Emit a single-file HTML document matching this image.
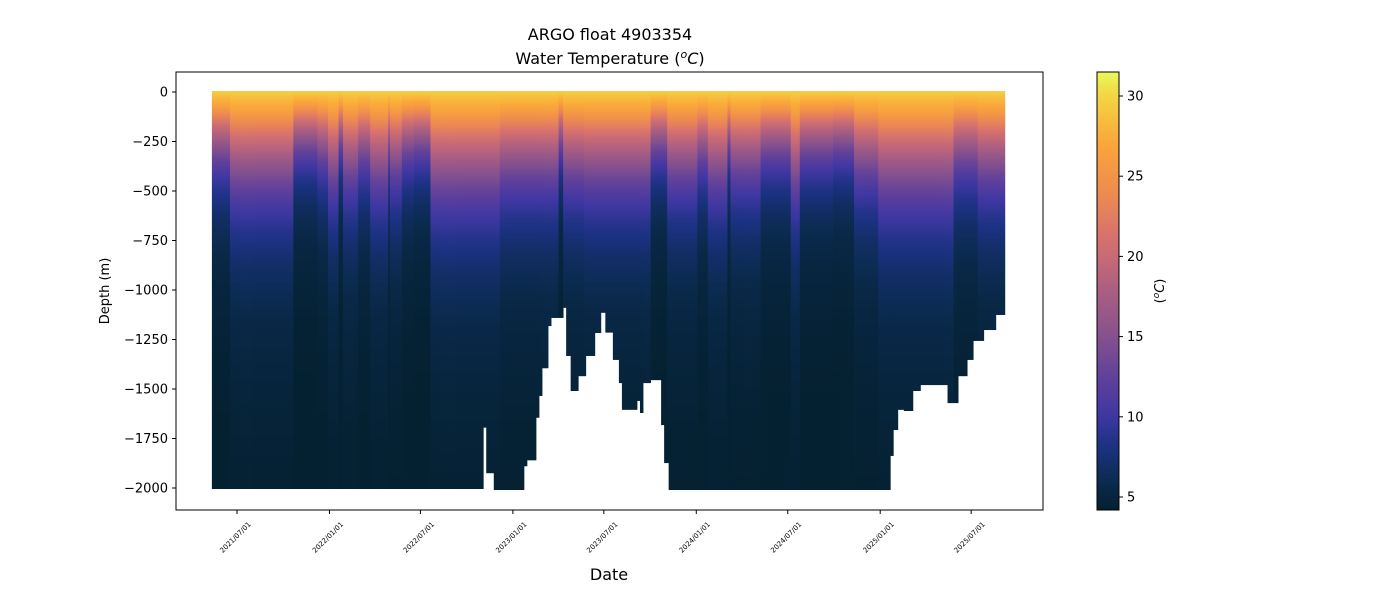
<!DOCTYPE html>
<html><head><meta charset="utf-8"><style>
body{margin:0;background:#fff;font-family:"Liberation Sans","DejaVu Sans",sans-serif}
svg text{font-family:"DejaVu Sans","Liberation Sans",sans-serif;fill:#000}
</style></head><body>
<svg id="c" width="1400" height="600" xmlns="http://www.w3.org/2000/svg">
<defs id="defs"></defs>
<text x="610" y="40" font-size="16" text-anchor="middle">ARGO float 4903354</text>
<text x="610" y="64" font-size="16" text-anchor="middle">Water Temperature (<tspan font-style="italic" font-size="11" dy="-6">o</tspan><tspan font-style="italic" dy="6">C</tspan>)</text>
<g id="plot"></g>
<rect x="176" y="72" width="867" height="438" fill="none" stroke="#000" stroke-width="1"/>
<g id="yax"></g>
<g id="xax"></g>
<text transform="translate(109,291) rotate(-90)" font-size="13" text-anchor="middle">Depth (m)</text>
<text x="609" y="580" font-size="16" text-anchor="middle">Date</text>
<g id="cbar"></g>
<text transform="translate(1164,291) rotate(-90)" font-size="13" text-anchor="middle">(<tspan font-style="italic" font-size="9" dy="-5">o</tspan><tspan font-style="italic" dy="5">C</tspan>)</text>
</svg>
<script>
// ---- data ----
const depthDays = [-50,490,494,509,569,577,593,599,607,617,623,647,653,663,679,693,712,722,732,748,758,766,796,802,808,822,842,848,858,1300,1305,1313,1325,1343,1359,1413,1433,1453,1465,1485,1508];
const maxDepth  = [1990,1680,1910,1995,1875,1845,1630,1520,1380,1167,1126,1075,1318,1495,1420,1318,1202,1100,1200,1338,1455,1590,1545,1606,1455,1440,1667,1859,1995,1823,1692,1590,1596,1495,1465,1556,1420,1338,1242,1187,1111];
const lastDay = 1528;
const warmDays = [-50,-14,111,159,179,201,211,239,265,299,304,328,350,384,523,639,649,689,822,856,915,935,975,981,1041,1100,1120,1186,1226,1274,1425,1473];
const warmth   = [-0.3,0.3,-0.5,-0.3,0.2,-0.6,0.1,-0.3,0.2,-0.6,0,-0.4,-0.5,0.4,0.1,-0.6,0.1,0.2,-0.5,0.1,-0.3,0.2,-0.6,0,-0.4,0.3,-0.4,-0.5,0,0.4,-0.2,0.1];
const profDepth = [0,30,80,130,200,250,300,400,500,600,750,900,1000,1200,1500,2000];
const profTemp  = [29.5,28.3,26.5,24,20.5,18.5,16.5,13,10.5,8.7,7,6,5.5,5,4.6,4.3];
const yTicks = [0,-250,-500,-750,-1000,-1250,-1500,-1750,-2000];
const xTickDays = [0,184,365,549,730,914,1096,1280,1461];
const xTickLabels = ["2021/07/01","2022/01/01","2022/07/01","2023/01/01","2023/07/01","2024/01/01","2024/07/01","2025/01/01","2025/07/01"];
const cbTicks = [5,10,15,20,25,30];
const cmapT = [4.2,6,8,10,12,15,18,21,24,27,30,31.5];
const cmapC = ["#04202f","#0b2b50","#1a3180","#3d37a2","#5a3e9c","#85518d","#ad5f81","#d5706f","#ef8b4f","#faa63a","#f4d543","#e8fa5b"];
// ---- scales ----
const NS="http://www.w3.org/2000/svg";
const xS = d => 237 + d*0.5025;
const yS = v => 92 + (-v)*0.198;
const cbY = t => 96 + (30-t)*16.04;
function interp(xs,ys,x){ if(x<=xs[0])return ys[0]; for(let i=1;i<xs.length;i++){ if(x<=xs[i]){const f=(x-xs[i-1])/(xs[i]-xs[i-1]);return ys[i-1]+f*(ys[i]-ys[i-1]);} } return ys[ys.length-1]; }
function hex(h){return [1,3,5].map(i=>parseInt(h.substr(i,2),16));}
function color(t){ let i=1; while(i<cmapT.length-1 && t>cmapT[i]) i++; let f=(t-cmapT[i-1])/(cmapT[i]-cmapT[i-1]); f=Math.max(0,Math.min(1,f)); const a=hex(cmapC[i-1]),b=hex(cmapC[i]); return "rgb("+a.map((v,k)=>Math.round(v+f*(b[k]-v))).join(",")+")"; }
function stepLookup(days,vals,d){ let r=vals[0]; for(let i=0;i<days.length;i++){ if(d>=days[i]) r=vals[i]; } return r; }
function el(tag,attrs,parent){const e=document.createElementNS(NS,tag);for(const k in attrs)e.setAttribute(k,attrs[k]);parent.appendChild(e);return e;}
const defs=document.getElementById('defs');
warmth.forEach((s,i)=>{
  const g=el('linearGradient',{id:'w'+i,gradientUnits:'userSpaceOnUse',x1:0,x2:0,y1:yS(0),y2:yS(-2000)},defs);
  for(let z=0;z<=2000;z+=25){
    const t=interp(profDepth,profTemp,z/(1+0.55*s));
    el('stop',{offset:(z/2000).toFixed(4),'stop-color':color(t)},g);
  }
});
const plot=document.getElementById('plot');
for(let d=depthDays[0]; d<lastDay; d+=3){
  const md=stepLookup(depthDays,maxDepth,d);
  const wi=(()=>{let r=0;for(let i=0;i<warmDays.length;i++) if(d>=warmDays[i]) r=i; return r;})();
  const x0=xS(d), x1=xS(Math.min(d+3,lastDay));
  const r=el('rect',{x:x0.toFixed(2),y:yS(0)-1,width:(x1-x0+0.4).toFixed(2),height:(yS(-md)-yS(0)+4).toFixed(2),fill:'url(#w'+wi+')'},plot);
  
  
}
const yax=document.getElementById('yax');
yTicks.forEach(v=>{
  const y=yS(v);
  const l=el('line',{x1:172,x2:176,y1:y,y2:y,stroke:'#000'},yax);
  
  
  const t=el('text',{x:168,y:y+4.5,'font-size':13,'text-anchor':'end'},yax);
  t.textContent=String(v).replace('-','\u2212');
  
  
});
const xax=document.getElementById('xax');
xTickDays.forEach((d,i)=>{
  const x=xS(d);
  const l=el('line',{x1:x,x2:x,y1:510,y2:514,stroke:'#000'},xax);
  
  
  const t=el('text',{transform:'translate('+(x)+',539) rotate(-45)','font-size':7,'text-anchor':'middle'},xax);
  t.textContent=xTickLabels[i];
  
  
});
const cb=document.getElementById('cbar');
const cg=el('linearGradient',{id:'cbg',x1:0,x2:0,y1:0,y2:1},defs);
for(let k=0;k<=40;k++){const t=31.5-(31.5-4.19)*k/40; el('stop',{offset:k/40,'stop-color':color(t)},cg);}
const cr=el('rect',{x:1097,y:72,width:22,height:438,fill:'url(#cbg)',stroke:'#000','stroke-width':1},cb);


cbTicks.forEach(v=>{
  const y=cbY(v);
  const l=el('line',{x1:1119,x2:1123,y1:y,y2:y,stroke:'#000'},cb);
  
  
  const t=el('text',{x:1127,y:y+4.5,'font-size':13},cb);
  t.textContent=v;
  
  
});
</script>
</body></html>
